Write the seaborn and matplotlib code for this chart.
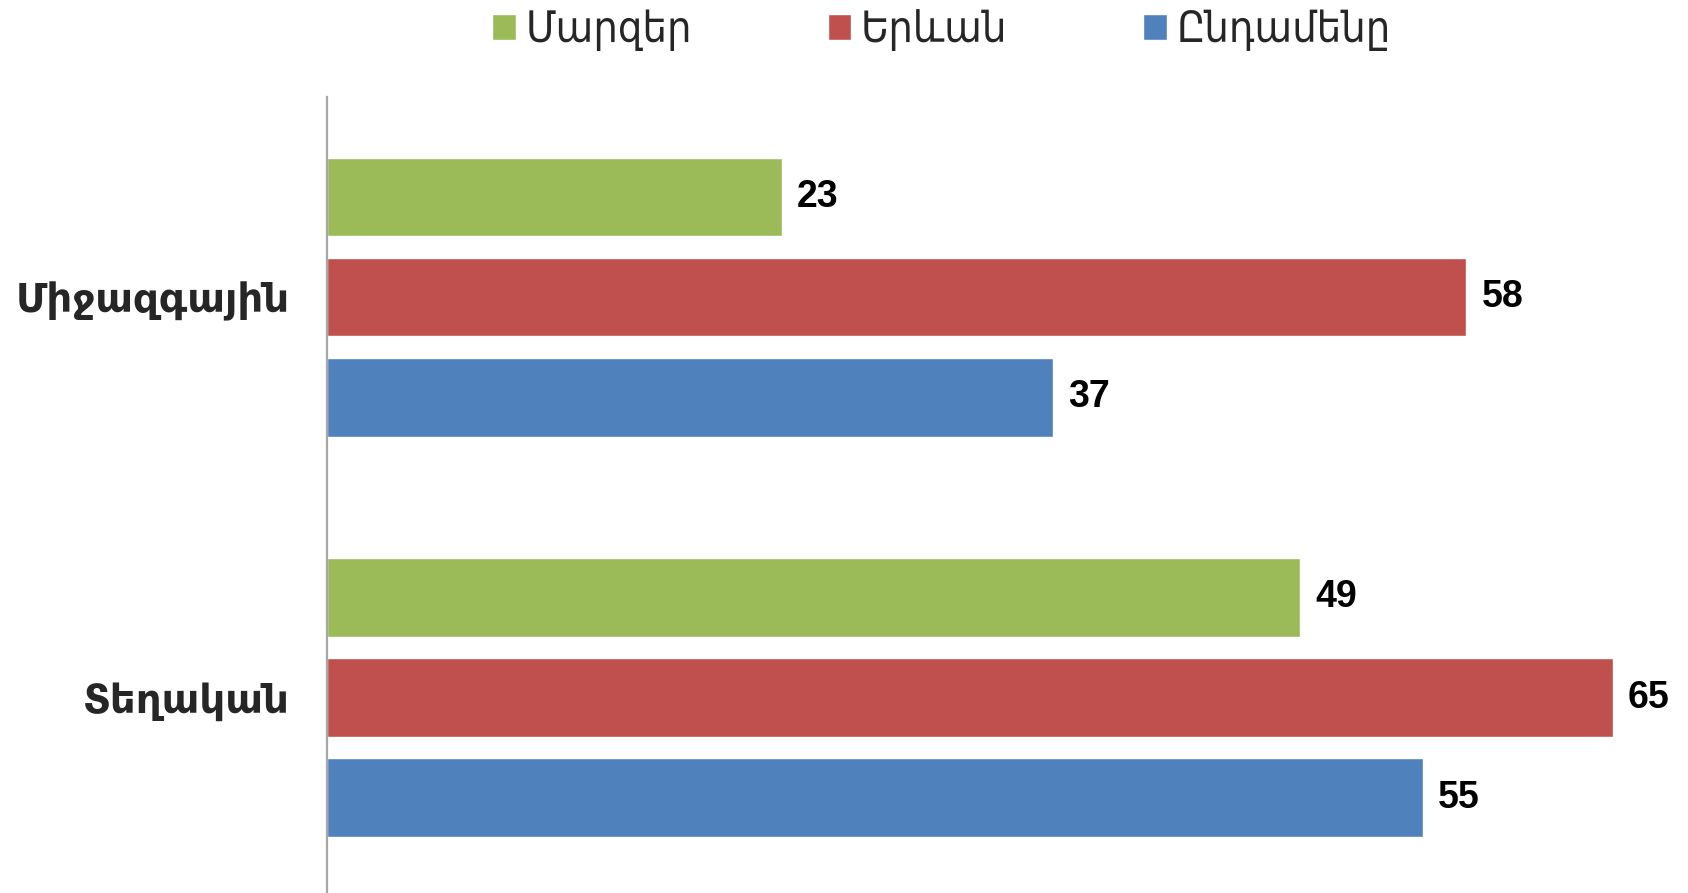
import matplotlib
matplotlib.use("Agg")
import matplotlib.pyplot as plt
import seaborn as sns
import pandas as pd

categories = ["Միջազգային", "Տեղական"]
series = ["Մարզեր", "Երևան", "Ընդամենը"]
values_marzer = [23.0, 49.2]
values_yerevan = [57.6, 65.0]
values_total = [36.7, 55.4]
colors = ["#9BBB59", "#C0504D", "#4F81BD"]

rows = []
for s, vals in zip(series, [values_marzer, values_yerevan, values_total]):
    for c, v in zip(categories, vals):
        rows.append({"category": c, "series": s, "value": v})
df = pd.DataFrame(rows)

sns.set_style("white")
plt.rcParams["font.family"] = ["DejaVu Sans"]

fig = plt.figure(figsize=(16.88, 8.93), dpi=100)
ax = fig.add_axes([0.1937, 0.0, 0.8063, 0.8914])

sns.barplot(data=df, y="category", x="value", hue="series", order=categories,
            hue_order=series, palette=colors, orient="h", width=0.75, gap=0.215,
            saturation=1, ax=ax, legend=True)

ax.set_xlim(0, 68.8)
ax.set_ylim(1.488, -0.5)
ax.set_xlabel("")
ax.set_ylabel("")
ax.set_xticks([])
for sp in ["top", "right", "bottom"]:
    ax.spines[sp].set_visible(False)
ax.spines["left"].set_color("#A6A6A6")
ax.spines["left"].set_linewidth(1.6)
ax.tick_params(axis="y", length=0, pad=27)
for lab in ax.get_yticklabels():
    lab.set_fontsize(29)
    lab.set_fontweight("bold")
    lab.set_family("DejaVu Sans")

for cont in ax.containers:
    texts = ax.bar_label(cont, fmt="%.0f", padding=11, fontsize=27, fontweight="bold",
                         family="Liberation Sans", color="black")

handles, labels = ax.get_legend_handles_labels()
if ax.legend_ is not None:
    ax.legend_.remove()
fig.legend(handles, labels, loc="center", bbox_to_anchor=(0.5577, 0.966), ncol=3,
           frameon=False, prop={"family": "DejaVu Sans", "stretch": "condensed", "size": 31},
           handlelength=0.55, handleheight=0.55, handletextpad=0.22, columnspacing=3.15)

fig.savefig("out.png", dpi=100)
